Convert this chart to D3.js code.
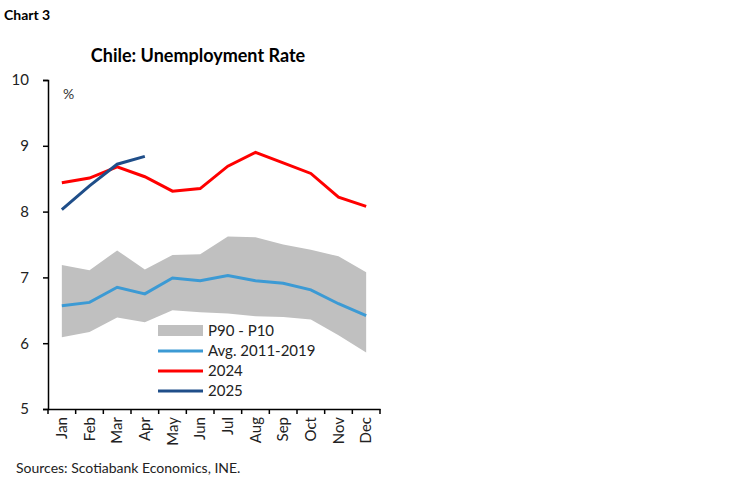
<!DOCTYPE html>
<html><head><meta charset="utf-8">
<script src="https://cdn.jsdelivr.net/npm/d3@7"></script>
<style>body{margin:0;background:#fff;font-family:Lato,"Open Sans",sans-serif;}</style>
</head><body><svg id="chart" width="748" height="483"></svg>
<script>
const months = ['Jan','Feb','Mar','Apr','May','Jun','Jul','Aug','Sep','Oct','Nov','Dec'];
const p90 = [7.19,7.11,7.41,7.12,7.34,7.35,7.62,7.61,7.50,7.42,7.32,7.08];
const p10 = [6.09,6.17,6.39,6.32,6.50,6.47,6.45,6.41,6.40,6.36,6.12,5.86];
const avg = [6.57,6.62,6.85,6.75,6.99,6.95,7.03,6.95,6.91,6.81,6.60,6.42];
const y2024 = [8.44,8.51,8.68,8.53,8.31,8.35,8.69,8.90,8.74,8.58,8.22,8.08];
const y2025 = [8.03,8.39,8.72,8.84];
const yTicks = [5,6,7,8,9,10];

const svg = d3.select('#chart');
const margin = {left: 48, right: 368, top: 80, bottom: 74};
const W = 748, H = 483;

const x = d3.scaleBand().domain(months).range([margin.left, W - margin.right]);
const y = d3.scaleLinear().domain([5, 10]).range([H - margin.bottom, margin.top]);
const cx = m => x(m) + x.bandwidth() / 2;

svg.append('text').attr('x', 4).attr('y', 20).attr('font-weight', 'bold').attr('font-size', 14).text('Chart 3');
svg.append('text').attr('x', 198).attr('y', 62).attr('text-anchor', 'middle').attr('font-weight', 'bold').attr('font-size', 18).text('Chile: Unemployment Rate');

// band
const band = months.map((m, i) => ({m, hi: p90[i], lo: p10[i]}));
svg.append('path').datum(band)
  .attr('d', d3.area().x(d => cx(d.m)).y0(d => y(d.lo)).y1(d => y(d.hi)))
  .attr('fill', '#c0c0c0');

const line = d3.line().x((d, i) => cx(months[i])).y(d => y(d));
[[avg, '#3c9ad4'], [y2024, '#ff0000'], [y2025, '#1f4e89']].forEach(([s, c]) => {
  svg.append('path').datum(s).attr('d', line).attr('fill', 'none').attr('stroke', c).attr('stroke-width', 3);
});

// axes
const yAxis = svg.append('g').attr('transform', `translate(${margin.left},0)`)
  .call(d3.axisLeft(y).tickValues(yTicks).tickFormat(d3.format('d')).tickSize(5).tickPadding(14));
const xAxis = svg.append('g').attr('transform', `translate(0,${H - margin.bottom})`)
  .call(d3.axisBottom(x).tickSize(5).tickSizeOuter(0));
xAxis.selectAll('.tick line').attr('transform', `translate(${-x.bandwidth() / 2},0)`);
xAxis.append('line').attr('x1', W - margin.right).attr('x2', W - margin.right).attr('y1', 0).attr('y2', 5).attr('stroke', '#000');
xAxis.selectAll('.tick text').attr('transform', 'rotate(-90)').attr('text-anchor', 'end')
  .attr('x', -8).attr('y', 0).attr('dy', '0.35em');
[yAxis, xAxis].forEach(g => {
  g.selectAll('text').attr('font-size', 15).attr('fill', '#222').attr('font-family', 'Lato,sans-serif');
  g.selectAll('line,path').attr('stroke', '#000').attr('stroke-width', 1.5);
});
svg.append('text').attr('x', 63).attr('y', 99).attr('font-size', 14).attr('fill', '#333').text('%');

// legend
const leg = [['P90 - P10', 'band', '#c0c0c0'], ['Avg. 2011-2019', 'line', '#3c9ad4'], ['2024', 'line', '#ff0000'], ['2025', 'line', '#1f4e89']];
leg.forEach(([t, k, c], i) => {
  const ly = 331 + i * 20;
  if (k === 'band') svg.append('rect').attr('x', 158).attr('y', ly - 6).attr('width', 45).attr('height', 11).attr('fill', c);
  else svg.append('line').attr('x1', 158).attr('x2', 203).attr('y1', ly).attr('y2', ly).attr('stroke', c).attr('stroke-width', 3);
  svg.append('text').attr('x', 208).attr('y', ly + 5).attr('font-size', 15).attr('fill', '#222').text(t);
});

svg.append('text').attr('x', 16).attr('y', 473).attr('font-size', 14).attr('fill', '#222').text('Sources: Scotiabank Economics, INE.');
</script></body></html>
